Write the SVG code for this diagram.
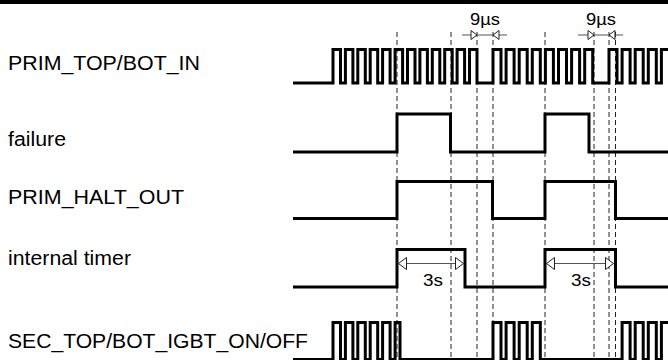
<svg xmlns="http://www.w3.org/2000/svg" width="668" height="360" viewBox="0 0 668 360">
<style>
.lbl{font-family:"Liberation Sans",Arial,sans-serif;font-size:19.5px;fill:#000}
.dim{font-family:"Liberation Sans",Arial,sans-serif;font-size:16.5px;fill:#000;text-anchor:middle}
.wave{fill:none;stroke:#000;stroke-width:3;stroke-linejoin:miter;stroke-linecap:butt}
.guide{fill:none;stroke:#222;stroke-width:1;stroke-dasharray:5,3}
.dline{fill:none;stroke:#555;stroke-width:1}
</style>
<defs>
<marker id="triS" viewBox="0 0 6 9" refX="6" refY="4.5" markerWidth="6" markerHeight="9" markerUnits="userSpaceOnUse" orient="auto-start-reverse" overflow="visible">
<path d="M0,0 L6,4.5 L0,9 Z" fill="#fff" stroke="#222" stroke-width="1"/>
</marker>
<marker id="triL" viewBox="0 0 8 12" refX="8" refY="6" markerWidth="8" markerHeight="12" markerUnits="userSpaceOnUse" orient="auto-start-reverse" overflow="visible">
<path d="M0,0 L8,6 L0,12 Z" fill="#fff" stroke="#222" stroke-width="1"/>
</marker>
</defs>
<rect x="0" y="0" width="668" height="4" fill="#000"/>
<g id="connectors">
<path class="guide" d="M397,32V360 M451,32V360 M477,32V360 M493,32V360 M545,32V360 M594,32V360 M609,32V360 M615.5,32V360"/>
</g>
<g id="sig-prim-in">
<text class="lbl" x="8" y="70" textLength="192" lengthAdjust="spacingAndGlyphs">PRIM_TOP/BOT_IN</text>
<path class="wave" d="M293,83 H333 V49.5 H340.5 V83 H345.4 V49.5 H352.9 V83 H357.8 V49.5 H365.3 V83 H370.2 V49.5 H377.7 V83 H382.6 V49.5 H390.1 V83 H395.1 V49.5 H402.6 V83 H407.5 V49.5 H415 V83 H419.9 V49.5 H427.4 V83 H432.3 V49.5 H439.8 V83 H444.7 V49.5 H452.2 V83 H457.1 V49.5 H464.6 V83 H469.5 V49.5 H477 V83 H493 V49.5 H501 V83 H506.1 V49.5 H514.1 V83 H519.2 V49.5 H527.2 V83 H532.3 V49.5 H540.3 V83 H545.4 V49.5 H553.4 V83 H558.5 V49.5 H566.5 V83 H571.6 V49.5 H579.6 V83 H584.7 V49.5 H592.7 V83 H609 V49.5 H617 V83 H622.1 V49.5 H630.1 V83 H635.2 V49.5 H643.2 V83 H648.3 V49.5 H656.3 V83 H661.4 V49.5 H668"/>
</g>
<g id="sig-failure">
<text class="lbl" x="8" y="146" textLength="58" lengthAdjust="spacingAndGlyphs">failure</text>
<path class="wave" d="M293,152 H397 V114 H450.5 V152 H545 V114 H589 V152 H668"/>
</g>
<g id="sig-halt-out">
<text class="lbl" x="8" y="204" textLength="176" lengthAdjust="spacingAndGlyphs">PRIM_HALT_OUT</text>
<path class="wave" d="M293,218.5 H397 V181.5 H492.5 V218.5 H545 V181.5 H615.5 V218.5 H668"/>
</g>
<g id="sig-timer">
<text class="lbl" x="8" y="265" textLength="123" lengthAdjust="spacingAndGlyphs">internal timer</text>
<path class="wave" d="M293,287 H397 V249.5 H465 V287 H545 V249.5 H615.5 V287 H668"/>
</g>
<g id="sig-sec-igbt">
<text class="lbl" x="8" y="348" textLength="300" lengthAdjust="spacingAndGlyphs">SEC_TOP/BOT_IGBT_ON/OFF</text>
<path class="wave" d="M293,359.5 H333 V322.5 H340.5 V359.5 H345.4 V322.5 H352.9 V359.5 H357.8 V322.5 H365.3 V359.5 H370.2 V322.5 H377.7 V359.5 H382.6 V322.5 H390.1 V359.5 H395.1 V322.5 H400 V359.5 H493 V322.5 H501 V359.5 H506.1 V322.5 H514.1 V359.5 H519.2 V322.5 H527.2 V359.5 H532.3 V322.5 H540.3 V359.5 H622.1 V322.5 H630.1 V359.5 H635.2 V322.5 H643.2 V359.5 H648.3 V322.5 H656.3 V359.5 H661.4 V322.5 H668"/>
</g>
<g id="dim-9us-1">
<path class="dline" d="M477,35H493"/>
<path class="dline" d="M462,35H477" marker-end="url(#triS)"/>
<path class="dline" d="M507,35H493" marker-end="url(#triS)"/>
<text class="dim" x="485" y="25" textLength="30" lengthAdjust="spacingAndGlyphs">9µs</text>
</g>
<g id="dim-9us-2">
<path class="dline" d="M594,35H609"/>
<path class="dline" d="M578,35H594" marker-end="url(#triS)"/>
<path class="dline" d="M623,35H609" marker-end="url(#triS)"/>
<text class="dim" x="601" y="25" textLength="30" lengthAdjust="spacingAndGlyphs">9µs</text>
</g>
<g id="dim-3s-1">
<path class="dline" d="M398.5,263.5H463.5" marker-start="url(#triL)" marker-end="url(#triL)"/>
<text class="dim" x="433" y="286" textLength="20" lengthAdjust="spacingAndGlyphs">3s</text>
</g>
<g id="dim-3s-2">
<path class="dline" d="M546.5,263.5H613.5" marker-start="url(#triL)" marker-end="url(#triL)"/>
<text class="dim" x="581" y="286" textLength="20" lengthAdjust="spacingAndGlyphs">3s</text>
</g>
</svg>
